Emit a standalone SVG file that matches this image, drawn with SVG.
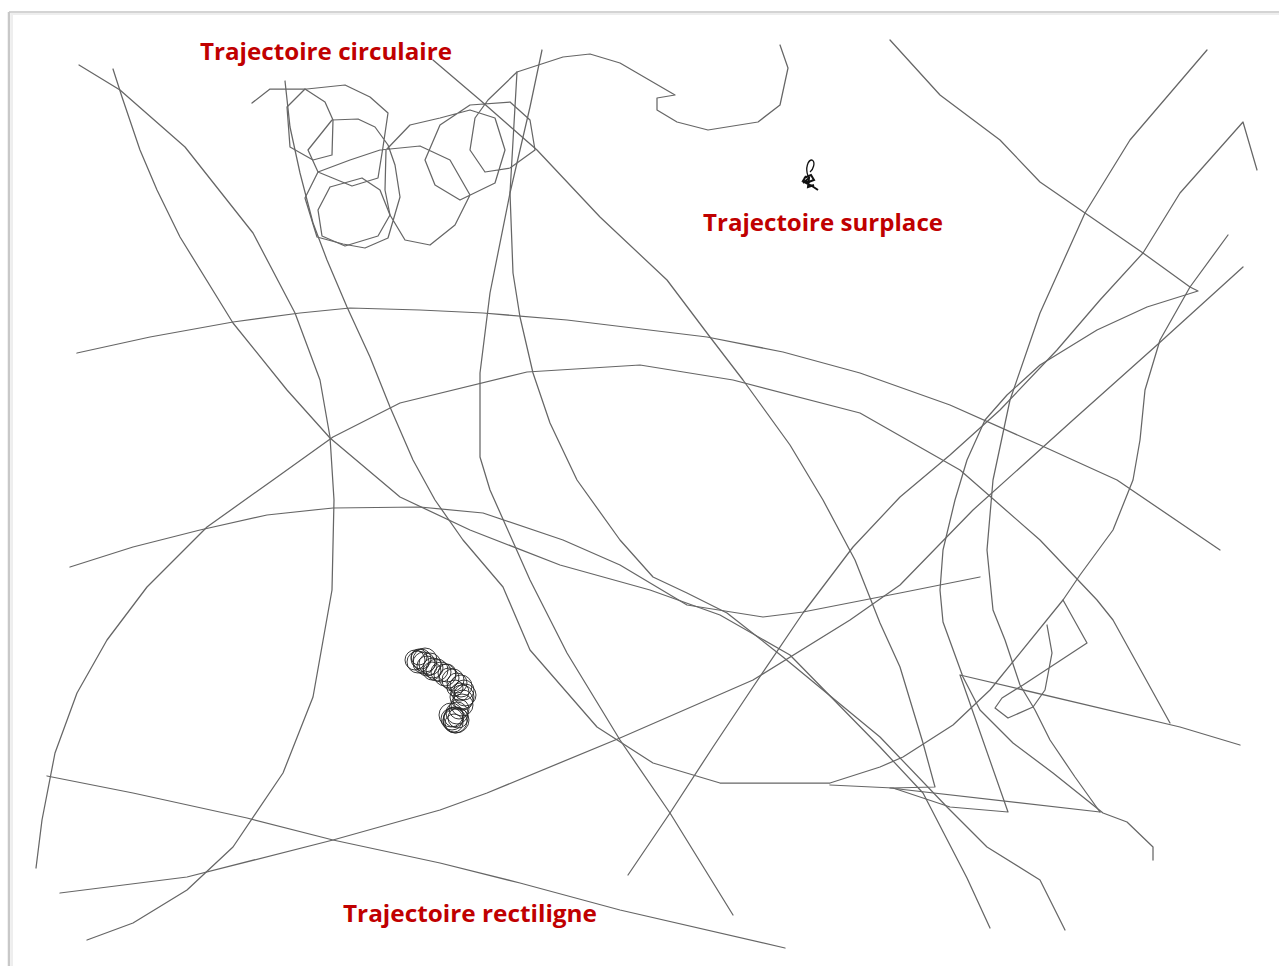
<svg xmlns="http://www.w3.org/2000/svg" width="1279" height="966" viewBox="0 0 1279 966">
<style>
.t{fill:none;stroke:#666;stroke-width:1.25;stroke-linejoin:round;stroke-linecap:round}
.c{fill:none;stroke:#262626;stroke-width:0.9}
.lbl{font-family:"Open Sans","Liberation Sans",sans-serif;font-weight:bold;font-size:24px;fill:#c00000}
</style>
<rect width="1279" height="966" fill="#fff"/>
<g id="frame">
<line x1="9" y1="12" x2="1279" y2="12" stroke="#d4d4d4" stroke-width="2"/>
<line x1="9" y1="12" x2="9" y2="966" stroke="#c8c8c8" stroke-width="2.5"/>
<line x1="11" y1="14" x2="1279" y2="14" stroke="#eeeeee" stroke-width="2"/>
<line x1="12" y1="14" x2="12" y2="966" stroke="#eeeeee" stroke-width="2"/>
</g>
<g id="trajectories">
<polyline class="t" points="79,65 120,90 185,147 253,233 295,313 320,380 330,437 334,500 332,590 313,697 283,773 233,847 187,890 133,923 87,940"/>
<polyline class="t" points="113,69 122,97 140,150 157,190 180,237 233,323 287,390 330,438 400,497 470,530 560,565 650,590 720,615 790,655 880,747 923,793 967,878 990,928"/>
<polyline class="t" points="285,81 290,127 300,173 313,223 327,260 347,307 370,357 390,407 413,460 435,500 463,540 503,587 530,650 597,727 653,763 720,783 830,783 880,767 903,757 953,725 990,690 1063,600 1080,575 1113,530 1133,480 1140,440 1145,390 1160,340 1190,287 1228,235"/>
<polyline class="t" points="890,40 940,95 1000,140 1040,182 1085,213 1143,253 1190,287 1198,291 1147,307 1097,330 1040,365 1007,395 985,420 967,460 955,500 943,550 940,590 943,622 963,677 980,710 1013,743 1053,773 1103,813 1127,822 1153,847 1153,860"/>
<polyline class="t" points="1207,50 1130,140 1085,213 1040,313 1010,400 993,480 987,550 993,610 1005,640 1020,685 1035,710 1050,740 1075,777 1100,812"/>
<polyline class="t" points="1240,745 1180,727 960,675 1008,812 950,807 893,788 830,785"/>
<polyline class="t" points="433,60 480,100 537,150 600,217 667,280 710,337 743,380 790,445 823,500 855,560 880,623 900,667 923,743 935,787 890,788 1100,812"/>
<polyline class="t" points="1047,625 1052,653 1045,690 1033,707 1008,718 995,708 1002,698 1023,685 1087,643 1063,600"/>
<polyline class="t" points="1257,170 1243,122 1180,193 1143,253 1100,300 1057,350 1000,410 950,455 900,497 853,547 803,613 753,687 713,747 670,813 628,875"/>
<polyline class="t" points="60,893 187,877 333,840 440,810 487,793 620,738 753,680 850,620 900,585 973,510 1073,420 1157,345 1243,267"/>
<polyline class="t" points="542,50 530,107 510,193 490,293 480,373 480,457 490,490 530,580 567,653 620,740 670,813 733,915"/>
<polyline class="t" points="517,72 510,193 513,273 520,317 533,373 550,423 577,480 620,540 653,577 687,593 727,613 783,657 880,737 947,807 987,847 1040,880 1065,930"/>
<polyline class="t" points="70,567 133,547 200,530 267,515 333,508 420,507 483,513 563,540 620,565 687,605 763,617 803,612 900,593 980,577"/>
<polyline class="t" points="77,353 150,337 233,322 300,313 350,308 420,310 483,313 567,320 707,337 783,352 860,373 950,405 1040,445 1117,480 1220,550"/>
<polyline class="t" points="36,868 42,820 55,753 77,693 107,640 147,587 207,527 273,480 333,437 400,403 527,372 640,365 733,380 860,413 960,470 1040,540 1097,600 1113,620 1170,723"/>
<polyline class="t" points="47,776 133,793 247,818 333,840 440,863 520,883 620,910 785,948"/>
</g>
<g id="circulaire">
<path class="t" d="M252,103 L270,89 307,89 345,85 370,97 388,113 383,147 378,178 352,186 318,172 308,150 332,120 358,119 375,127 388,145 395,165 400,197 388,238 365,248 343,244 317,237 305,198 318,172 350,160 380,150 420,146 450,160 470,195 455,225 430,245 405,240 390,215 385,190 386,150 410,125 440,118 470,110 495,118 505,150 495,183 460,200 435,185 425,160 440,125 470,105 510,102 530,120 535,150 510,168 485,172 470,150 475,118 488,100 517,72 563,57 590,54 620,63 675,95 657,98 657,110 677,122 708,130 758,122 780,105 788,68 780,45"/>
<path class="t" d="M287,107 L305,89 325,102 333,120 332,155 313,160 290,147 287,107"/>
<path class="t" d="M330,187 L362,178 380,190 390,215 378,236 345,246 322,236 318,210 330,187"/>
</g>
<g id="surplace">
<path d="M808,176 C805,168 808,160 812,160 C816,162 813,170 810,172" fill="none" stroke="#111" stroke-width="1.3"/>
<path d="M804,178 L811,175 L814,180 L806,183 L812,186 L818,190 M803,183 L809,178 L808,187 L814,185 M806,176 L803,181 L810,182" fill="none" stroke="#111" stroke-width="2"/>
</g>
<g id="rectiligne">
<circle class="c" cx="415" cy="660" r="10"/>
<circle class="c" cx="418" cy="662" r="11"/>
<circle class="c" cx="421" cy="659" r="10"/>
<circle class="c" cx="424" cy="663" r="11"/>
<circle class="c" cx="427" cy="666" r="10"/>
<circle class="c" cx="430" cy="664" r="11"/>
<circle class="c" cx="433" cy="668" r="10"/>
<circle class="c" cx="437" cy="670" r="11"/>
<circle class="c" cx="441" cy="672" r="10"/>
<circle class="c" cx="445" cy="675" r="11"/>
<circle class="c" cx="449" cy="678" r="10"/>
<circle class="c" cx="453" cy="680" r="11"/>
<circle class="c" cx="457" cy="683" r="10"/>
<circle class="c" cx="461" cy="686" r="11"/>
<circle class="c" cx="464" cy="690" r="10"/>
<circle class="c" cx="465" cy="695" r="11"/>
<circle class="c" cx="463" cy="700" r="10"/>
<circle class="c" cx="462" cy="705" r="11"/>
<circle class="c" cx="459" cy="709" r="10"/>
<circle class="c" cx="457" cy="713" r="11"/>
<circle class="c" cx="454" cy="717" r="10"/>
<circle class="c" cx="455" cy="721" r="12"/>
<circle class="c" cx="452" cy="719" r="11"/>
<circle class="c" cx="458" cy="718" r="10"/>
<circle class="c" cx="454" cy="723" r="9"/>
<circle class="c" cx="451" cy="715" r="12"/>
<circle class="c" cx="456" cy="720" r="13"/>
<circle class="c" cx="419" cy="657" r="8"/>
<circle class="c" cx="425" cy="660" r="12"/>
<circle class="c" cx="432" cy="671" r="9"/>
<circle class="c" cx="460" cy="692" r="9"/>
<circle class="c" cx="462" cy="697" r="12"/>
<circle class="c" cx="447" cy="673" r="9"/>
<circle class="c" cx="455" cy="688" r="8"/>
</g>
<g id="labels">
<text class="lbl" x="200" y="60" textLength="252" lengthAdjust="spacingAndGlyphs">Trajectoire circulaire</text>
<text class="lbl" x="703" y="231" textLength="240" lengthAdjust="spacingAndGlyphs">Trajectoire surplace</text>
<text class="lbl" x="343" y="922" textLength="254" lengthAdjust="spacingAndGlyphs">Trajectoire rectiligne</text>
</g>
</svg>
